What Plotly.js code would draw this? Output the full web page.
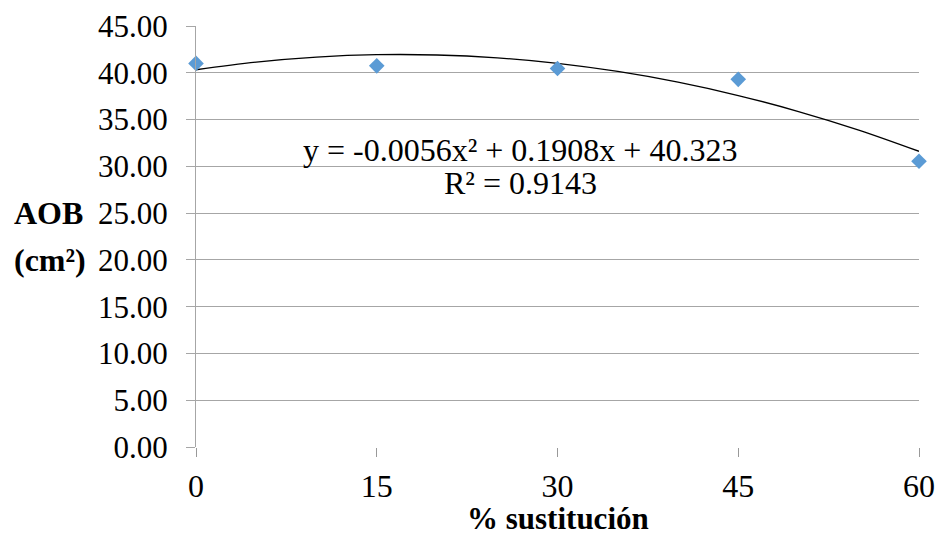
<!DOCTYPE html>
<html>
<head>
<meta charset="utf-8">
<script src="https://cdn.plot.ly/plotly-3.0.1.min.js"></script>
<style>
html,body{margin:0;padding:0;background:#fff;}
#chart{width:937px;height:539px;}
</style>
</head>
<body>
<div id="chart"></div>
<script>
// Observed points
const sustitucion = [0, 15, 30, 45, 60];
const aob = [41.0, 40.74, 40.46, 39.3, 30.55];

// Polynomial trend line as drawn
const trendX = [0, 5, 10, 15, 20, 25, 30, 35, 40, 45, 50, 55, 60];
const trendY = [40.32, 41.14, 41.67, 41.93, 41.90, 41.59, 41.01, 40.14, 39.00, 37.57, 35.86, 33.88, 31.61];

const xTicks = [0, 15, 30, 45, 60];
const yTicks = [0, 5, 10, 15, 20, 25, 30, 35, 40, 45];

const eqText = "y = -0.0056x² + 0.1908x + 40.323";
const r2Text = "R² = 0.9143";
const xTitle = "% sustitución";
const yTitleLines = ["AOB", "(cm²)"];

const font = "Liberation Serif";

const traces = [
  {
    x: trendX, y: trendY, type: "scatter", mode: "lines",
    line: {color: "#000000", width: 1.3, shape: "spline"},
    hoverinfo: "skip", showlegend: false
  },
  {
    x: sustitucion, y: aob, type: "scatter", mode: "markers",
    marker: {symbol: "diamond", size: 12, color: "#5B9BD5"},
    showlegend: false, cliponaxis: false
  }
];

const layout = {
  width: 937, height: 539,
  margin: {l: 196, r: 18, t: 26, b: 92},
  paper_bgcolor: "#ffffff", plot_bgcolor: "#ffffff",
  font: {family: font, size: 31, color: "#000000"},
  showlegend: false,
  xaxis: {
    range: [0, 60], tickvals: xTicks, ticktext: xTicks.map(String),
    showgrid: false, zeroline: false,
    showline: false,
    ticks: "outside", ticklen: 9, tickcolor: "#999999", tickwidth: 1,
    tickfont: {family: font, size: 32, color: "#000000"},
    ticklabelstandoff: 2
  },
  yaxis: {
    range: [0, 45], tickvals: yTicks, tickformat: ".2f",
    showgrid: true, gridcolor: "#a6a6a6", gridwidth: 1,
    zeroline: false,
    showline: true, linecolor: "#a6a6a6", linewidth: 1,
    ticks: "outside", ticklen: 9, tickcolor: "#a6a6a6", tickwidth: 1,
    tickfont: {family: font, size: 31, color: "#000000"},
    ticklabelstandoff: 12
  },
  annotations: [
    {xref: "x", yref: "y", x: 26.9, y: 31.7, text: eqText, showarrow: false,
     font: {family: font, size: 32, color: "#000000"}, xanchor: "center", yanchor: "middle"},
    {xref: "x", yref: "y", x: 26.9, y: 28.2, text: r2Text, showarrow: false,
     font: {family: font, size: 32, color: "#000000"}, xanchor: "center", yanchor: "middle"},
    {xref: "paper", yref: "paper", x: 0.5, y: -0.171, text: "<b>" + xTitle + "</b>", showarrow: false,
     font: {family: font, size: 31, color: "#000000"}, xanchor: "center", yanchor: "middle"},
    {xref: "paper", yref: "y", x: -0.254, y: 25, text: "<b>" + yTitleLines[0] + "</b>", showarrow: false,
     font: {family: font, size: 32, color: "#000000"}, xanchor: "left", yanchor: "middle"},
    {xref: "paper", yref: "y", x: -0.254, y: 20, text: "<b>" + yTitleLines[1] + "</b>", showarrow: false,
     font: {family: font, size: 32, color: "#000000"}, xanchor: "left", yanchor: "middle"}
  ]
};

Plotly.newPlot("chart", traces, layout, {displayModeBar: false, staticPlot: true});
</script>
</body>
</html>
